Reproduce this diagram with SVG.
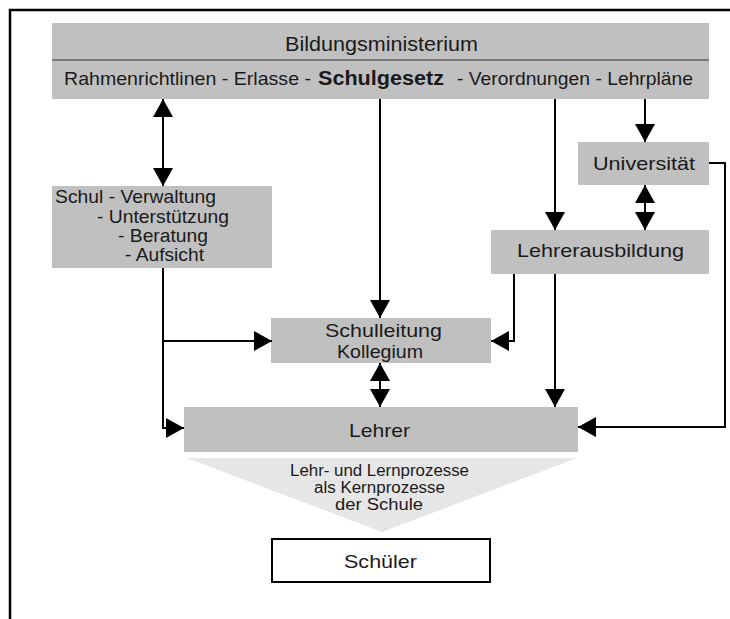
<svg xmlns="http://www.w3.org/2000/svg" width="730" height="619" viewBox="0 0 730 619">
<style>
.box{fill:#c0c0c0}
.t{font-family:"Liberation Sans",Arial,sans-serif;fill:#1a1a1a;font-size:19px}
.b{font-weight:bold;font-size:20px}
.h{font-size:21px}
.s{font-size:16px}
.ln{fill:none;stroke:#000;stroke-width:2}
</style>
<defs>
<marker id="ah" markerUnits="userSpaceOnUse" markerWidth="18" markerHeight="20" refX="18" refY="10" orient="auto-start-reverse" viewBox="0 0 18 20">
<path d="M0,0 L18,10 L0,20 Z" fill="#000"/>
</marker>
</defs>
<rect width="730" height="619" fill="#fff"/>
<path d="M10,619 V10 H730" fill="none" stroke="#000" stroke-width="2.5"/>

<g id="ministerium">
<rect class="box" x="52" y="23" width="657" height="76"/>
<line x1="52" y1="60" x2="709" y2="60" stroke="#333" stroke-width="1.2"/>
<text class="t h" x="285" y="51" textLength="193" lengthAdjust="spacingAndGlyphs">Bildungsministerium</text>
<text class="t" x="64" y="85" textLength="247" lengthAdjust="spacingAndGlyphs">Rahmenrichtlinen - Erlasse -</text>
<text class="t b" x="318" y="85" textLength="126" lengthAdjust="spacingAndGlyphs">Schulgesetz</text>
<text class="t" x="457" y="85" textLength="236" lengthAdjust="spacingAndGlyphs">- Verordnungen - Lehrpläne</text>
</g>

<g id="verwaltung">
<rect class="box" x="52" y="186" width="220" height="82"/>
<text class="t" x="55" y="203" textLength="161" lengthAdjust="spacingAndGlyphs">Schul - Verwaltung</text>
<text class="t" x="97" y="223" textLength="132" lengthAdjust="spacingAndGlyphs">- Unterstützung</text>
<text class="t" x="118" y="242" textLength="90" lengthAdjust="spacingAndGlyphs">- Beratung</text>
<text class="t" x="125" y="261" textLength="79" lengthAdjust="spacingAndGlyphs">- Aufsicht</text>
</g>

<g id="universitaet">
<rect class="box" x="578" y="142" width="131" height="43"/>
<text class="t" x="593" y="170" textLength="102" lengthAdjust="spacingAndGlyphs">Universität</text>
</g>

<g id="lehrerausbildung">
<rect class="box" x="491" y="230" width="218" height="44"/>
<text class="t" x="517" y="257" textLength="167" lengthAdjust="spacingAndGlyphs">Lehrerausbildung</text>
</g>

<g id="schulleitung">
<rect class="box" x="271" y="318" width="220" height="45"/>
<text class="t" x="325" y="337" textLength="117" lengthAdjust="spacingAndGlyphs">Schulleitung</text>
<text class="t" x="337" y="358" textLength="86" lengthAdjust="spacingAndGlyphs">Kollegium</text>
</g>

<g id="lehrer">
<rect class="box" x="184" y="407" width="394" height="45"/>
<text class="t" x="349" y="437" textLength="61" lengthAdjust="spacingAndGlyphs">Lehrer</text>
</g>

<g id="prozesse">
<polygon points="187,458 577,458 382,532" fill="#e6e6e6"/>
<text class="t s" x="290" y="476" textLength="179" lengthAdjust="spacingAndGlyphs">Lehr- und Lernprozesse</text>
<text class="t s" x="314" y="493" textLength="131" lengthAdjust="spacingAndGlyphs">als Kernprozesse</text>
<text class="t s" x="335" y="510" textLength="88" lengthAdjust="spacingAndGlyphs">der Schule</text>
</g>

<g id="schueler">
<rect x="272" y="539" width="218" height="43" fill="#fff" stroke="#000" stroke-width="2"/>
<text class="t" x="344" y="568" textLength="73" lengthAdjust="spacingAndGlyphs">Schüler</text>
</g>

<g id="connectors">
<path class="ln" d="M163,99 V186" marker-start="url(#ah)" marker-end="url(#ah)"/>
<path class="ln" d="M163,268 V428 H184" marker-end="url(#ah)"/>
<path class="ln" d="M163,341 H272" marker-end="url(#ah)"/>
<path class="ln" d="M380,99 V318" marker-end="url(#ah)"/>
<path class="ln" d="M555,99 V230" marker-end="url(#ah)"/>
<path class="ln" d="M645,99 V142" marker-end="url(#ah)"/>
<path class="ln" d="M645,185 V230" marker-start="url(#ah)" marker-end="url(#ah)"/>
<path class="ln" d="M709,163 H725 V427 H578" marker-end="url(#ah)"/>
<path class="ln" d="M514,274 V341 H491" marker-end="url(#ah)"/>
<path class="ln" d="M555,274 V407" marker-end="url(#ah)"/>
<path class="ln" d="M380,363 V407" marker-start="url(#ah)" marker-end="url(#ah)"/>
</g>
</svg>
